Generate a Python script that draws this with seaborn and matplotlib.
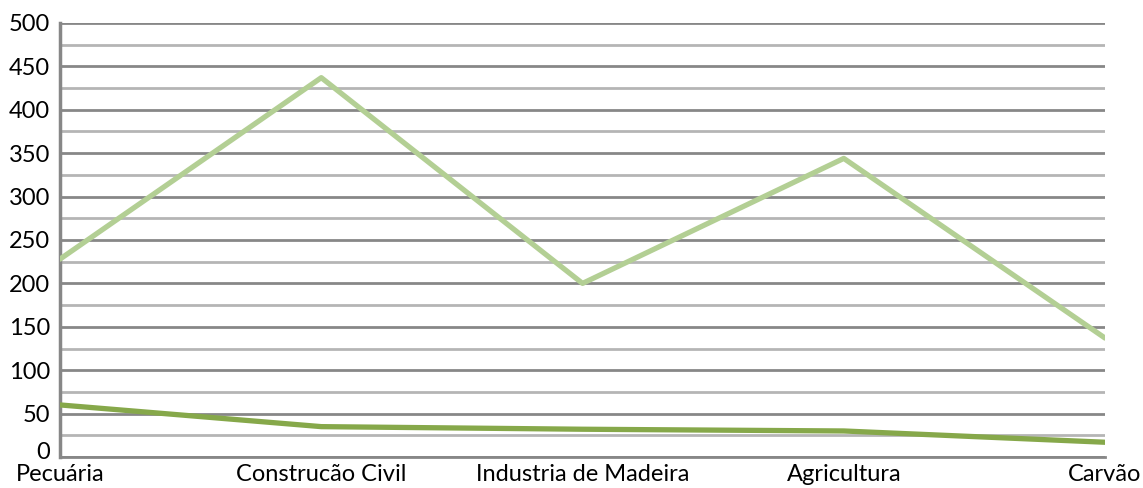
import pandas as pd
import numpy as np
import matplotlib.pyplot as plt
import matplotlib.transforms as mtrans
import seaborn as sns
from matplotlib.ticker import MultipleLocator

# data
categories = ['Pecuária', 'Construcão Civil', 'Industria de Madeira', 'Agricultura', 'Carvão']
series_a = [228, 437, 200, 344, 137]
series_b = [60, 35, 32, 30, 17]

df = pd.DataFrame({
    'setor': categories * 2,
    'valor': series_a + series_b,
    'serie': ['A'] * 5 + ['B'] * 5,
})
df['pos'] = list(range(5)) * 2

sns.set_style('white')
plt.rcParams['font.family'] = ['Lato', 'DejaVu Sans']

fig = plt.figure(figsize=(11.43, 4.88), dpi=100)
ax = fig.add_axes([0.0525, 0.0635, 0.9143, 0.8894])

sns.lineplot(data=df, x='pos', y='valor', hue='serie',
             palette={'A': '#b3cf94', 'B': '#86a84a'},
             linewidth=3.8, legend=False, ax=ax, zorder=3)

ax.set_xlim(0, 4)
ax.set_ylim(0, 500)
ax.yaxis.set_major_locator(MultipleLocator(50))
ax.yaxis.set_minor_locator(MultipleLocator(25))
ax.grid(which='major', axis='y', color='#878787', linewidth=2)
ax.grid(which='minor', axis='y', color='#b5b5b5', linewidth=2)
ax.set_axisbelow(True)

ax.set_xticks(range(5))
ax.set_xticklabels(categories)
ax.tick_params(axis='both', which='both', length=0, labelsize=17, colors='black')
ax.tick_params(axis='x', pad=5)
ax.tick_params(axis='y', pad=7)
ax.set_xlabel('')
ax.set_ylabel('')

for s in ['top', 'right']:
    ax.spines[s].set_visible(False)
ax.spines['left'].set_color('#878787')
ax.spines['left'].set_linewidth(2.5)
ax.spines['bottom'].set_color('#878787')
ax.spines['bottom'].set_linewidth(2)

# lift the "0" label a little so it does not touch "Pecuária"
for lbl in ax.get_yticklabels():
    if lbl.get_text() == '0':
        lbl.set_transform(lbl.get_transform() + mtrans.ScaledTranslation(0, 5 / 72, fig.dpi_scale_trans))

fig.savefig('out.png', dpi=100)
